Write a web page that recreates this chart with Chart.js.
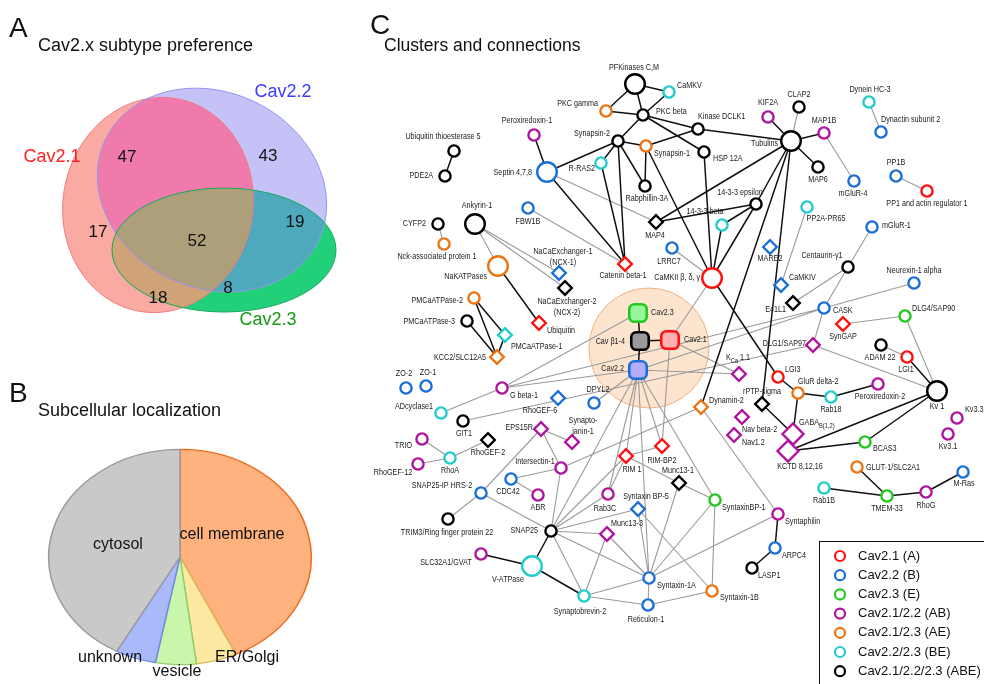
<!DOCTYPE html>
<html>
<head>
<meta charset="utf-8">
<script src="https://cdn.jsdelivr.net/npm/chart.js@4.4.1/dist/chart.umd.min.js"></script>
<style>
  html, body { margin: 0; padding: 0; background: #fff; overflow: hidden; }
  #wrap { position: relative; width: 984px; height: 684px; }
  #pie { position: absolute; left: 47px; top: 424px; z-index: 0; }
  #main { position: absolute; left: 0; top: 0; z-index: 1; }
</style>
</head>
<body>
<div id="wrap">
  <canvas id="pie" width="266" height="266"></canvas>
  <canvas id="main" width="984" height="684"></canvas>
</div>
<script>
// ---------- Panel A: Cav2.x subtype preference (Venn counts) ----------
const vennSets = ['Cav2.1', 'Cav2.2', 'Cav2.3'];
const vennRegions = ['2.1 only', '2.2 only', '2.3 only', '2.1+2.2', '2.1+2.3', '2.2+2.3', '2.1+2.2+2.3'];
const vennRegionSets = [[0], [1], [2], [0, 1], [0, 2], [1, 2], [0, 1, 2]];
const vennCounts = [17, 43, 8, 47, 18, 19, 52];

// ---------- Panel B: subcellular localization ----------
const pieLabels = ['cell membrane', 'ER/Golgi', 'vesicle', 'unknown', 'cytosol'];
const pieValues = [43, 5, 5, 5, 42];

// ---------- Panel C: subtype groups ----------
const subtypeGroups = ['A', 'B', 'E', 'AB', 'AE', 'BE', 'ABE'];
const subtypeNames = ['Cav2.1 (A)', 'Cav2.2 (B)', 'Cav2.3 (E)', 'Cav2.1/2.2 (AB)',
                      'Cav2.1/2.3 (AE)', 'Cav2.2/2.3 (BE)', 'Cav2.1/2.2/2.3 (ABE)'];

// proteins: [name, subtype group, marker, x, y, label x, label y, label anchor]
// marker: o circle, O large circle, d diamond, D large diamond, s channel subunit
const proteins = [
  ['Ubiquitin thioesterase 5','ABE','o',454,151,443,137,'c'],
  ['PDE2A','ABE','o',445,176,433,176,'r'],
  ['Peroxiredoxin-1','AB','o',534,135,527,121,'c'],
  ['Septin 4,7,8','B','O',547,172,532,173,'r'],
  ['PFKinases C,M','ABE','O',635,84,634,68,'c'],
  ['CaMKV','BE','o',669,92,677,86,'l'],
  ['PKC gamma','AE','o',606,111,598,104,'r'],
  ['PKC beta','ABE','o',643,115,656,112,'l'],
  ['Kinase DCLK1','ABE','o',698,129,698,117,'l'],
  ['KIF2A','AB','o',768,117,768,103,'c'],
  ['Synapsin-2','ABE','o',618,141,610,134,'r'],
  ['Synapsin-1','AE','o',646,146,654,154,'l'],
  ['HSP 12A','ABE','o',704,152,713,159,'l'],
  ['R-RAS2','BE','o',601,163,595,169,'r'],
  ['Rabphillin-3A','ABE','o',645,186,647,199,'c'],
  ['Tubulins','ABE','O',791,141,778,144,'r'],
  ['14-3-3 epsilon','ABE','o',756,204,740,193,'c'],
  ['14-3-3 beta','BE','o',722,225,705,212,'c'],
  ['CLAP2','ABE','o',799,107,799,95,'c'],
  ['MAP1B','AB','o',824,133,824,121,'c'],
  ['MAP6','ABE','o',818,167,818,180,'c'],
  ['mGluR-4','B','o',854,181,853,194,'c'],
  ['Dynein HC-3','BE','o',869,102,870,90,'c'],
  ['Dynactin subunit 2','B','o',881,132,881,120,'l'],
  ['PP1B','B','o',896,176,896,163,'c'],
  ['PP1 and actin regulator 1','A','o',927,191,927,204,'c'],
  ['FBW1B','B','o',528,208,528,222,'c'],
  ['Ankyrin-1','ABE','O',475,224,477,206,'c'],
  ['CYFP2','ABE','o',438,224,426,224,'r'],
  ['Nck-associated protein 1','AE','o',444,244,437,257,'c'],
  ['NaKATPases','AE','O',498,266,487,277,'r'],
  ['NCX-1','B','d',559,273,563,252,'c'],
  ['NCX-2','ABE','d',565,288,567,302,'c'],
  ['Ubiquitin','A','d',539,323,547,331,'l'],
  ['PMCaATPase-2','AE','o',474,298,463,301,'r'],
  ['PMCaATPase-3','ABE','o',467,321,455,322,'r'],
  ['PMCaATPase-1','BE','d',505,335,511,347,'l'],
  ['KCC2/SLC12A5','AE','d',497,357,486,358,'r'],
  ['MAP4','ABE','d',656,222,655,236,'c'],
  ['LRRC7','B','o',672,248,669,262,'c'],
  ['Catenin beta-1','A','d',625,264,623,276,'c'],
  ['CaMKII','A','O',712,278,700,278,'r'],
  ['MARE2','B','d',770,247,770,259,'c'],
  ['CaMKIV','B','d',781,285,789,278,'l'],
  ['PP2A-PR65','BE','o',807,207,826,219,'c'],
  ['Cav2.3','E','s',638,313,651,313,'l'],
  ['Cav β1-4','ABE','s',640,341,625,342,'r'],
  ['Cav2.1','A','s',670,340,684,340,'l'],
  ['Cav2.2','B','s',638,370,624,369,'r'],
  ['E41L1','ABE','d',793,303,786,310,'r'],
  ['Centaurin-γ1','ABE','o',848,267,822,256,'c'],
  ['mGluR-1','B','o',872,227,882,226,'l'],
  ['Neurexin-1 alpha','B','o',914,283,914,271,'c'],
  ['CASK','B','o',824,308,833,311,'l'],
  ['SynGAP','A','d',843,324,843,337,'c'],
  ['DLG4/SAP90','E','o',905,316,912,309,'l'],
  ['DLG1/SAP97','AB','d',813,345,806,344,'r'],
  ['ADAM 22','ABE','o',881,345,880,358,'c'],
  ['LGI1','A','o',907,357,906,370,'c'],
  ['Kv 1','ABE','O',937,391,937,407,'c'],
  ['LGI3','A','o',778,377,785,370,'l'],
  ['GluR delta-2','AE','o',798,393,798,382,'l'],
  ['Rab18','BE','o',831,397,831,410,'c'],
  ['Peroxiredoxin-2','AB','o',878,384,880,397,'c'],
  ['GABA-B','AB','D',793,434,799,423,'l'],
  ['KCTD 8,12,16','AB','D',788,451,800,467,'c'],
  ['BCAS3','E','o',865,442,873,449,'l'],
  ['Kv3.3','AB','o',957,418,965,410,'l'],
  ['Kv3.1','AB','o',948,434,948,447,'c'],
  ['GLUT-1/SLC2A1','AE','o',857,467,866,468,'l'],
  ['Rab1B','BE','o',824,488,824,501,'c'],
  ['TMEM-33','E','o',887,496,887,509,'c'],
  ['RhoG','AB','o',926,492,926,506,'c'],
  ['M-Ras','B','o',963,472,964,484,'c'],
  ['KCa 1.1','AB','d',739,374,738,358,'c'],
  ['DPYL2','B','o',594,403,598,390,'c'],
  ['Dynamin-2','AE','d',701,407,709,401,'l'],
  ['rPTP-sigma','ABE','d',762,404,762,392,'c'],
  ['Nav beta-2','AB','d',742,417,742,430,'l'],
  ['Nav1.2','AB','d',734,435,742,443,'l'],
  ['RIM-BP2','A','d',662,446,662,461,'c'],
  ['RIM 1','A','d',626,456,632,470,'c'],
  ['Munc13-1','ABE','d',679,483,678,471,'c'],
  ['SyntaxinBP-1','E','o',715,500,722,508,'l'],
  ['Rab3C','AB','o',608,494,605,509,'c'],
  ['Syntaxin BP-5','B','d',638,509,646,497,'c'],
  ['Syntaphilin','AB','o',778,514,785,522,'l'],
  ['ARPC4','B','o',775,548,782,556,'l'],
  ['LASP1','ABE','o',752,568,758,576,'l'],
  ['ZO-2','B','o',406,388,404,374,'c'],
  ['ZO-1','B','o',426,386,428,373,'c'],
  ['G beta-1','AB','o',502,388,510,396,'l'],
  ['RhoGEF-6','B','d',558,398,540,411,'c'],
  ['ADcyclase1','BE','o',441,413,433,407,'r'],
  ['GIT1','ABE','o',463,421,464,434,'c'],
  ['EPS15R','AB','d',541,429,533,428,'r'],
  ['Synaptojanin-1','AB','d',572,442,583,421,'c'],
  ['TRIO','AB','o',422,439,412,446,'r'],
  ['RhoGEF-2','ABE','d',488,440,488,453,'c'],
  ['RhoA','BE','o',450,458,450,471,'c'],
  ['RhoGEF-12','AB','o',418,464,393,473,'c'],
  ['Intersectin-1','AB','o',561,468,535,462,'c'],
  ['CDC42','B','o',511,479,508,492,'c'],
  ['ABR','AB','o',538,495,538,508,'c'],
  ['SNAP25-IP HRS-2','B','o',481,493,442,486,'c'],
  ['TRIM3/Ring finger protein 22','ABE','o',448,519,447,533,'c'],
  ['SNAP25','ABE','o',551,531,538,531,'r'],
  ['SLC32A1/GVAT','AB','o',481,554,446,563,'c'],
  ['V-ATPase','BE','O',532,566,508,580,'c'],
  ['Synaptobrevin-2','BE','o',584,596,580,612,'c'],
  ['Munc13-3','AB','d',607,534,627,524,'c'],
  ['Syntaxin-1A','B','o',649,578,657,586,'l'],
  ['Syntaxin-1B','AE','o',712,591,720,598,'l'],
  ['Reticulon-1','B','o',648,605,646,620,'c']
];

// printed names that differ from the short protein keys
const printedName = {
  'NCX-1': 'NaCaExchanger-1\n(NCX-1)',
  'NCX-2': 'NaCaExchanger-2\n(NCX-2)',
  'CaMKII': 'CaMKII β, δ, γ',
  'GABA-B': 'GABA_{B(1,2)}',
  'KCa 1.1': 'K_{Ca} 1.1',
  'Synaptojanin-1': 'Synapto-\njanin-1'
};

// links: [protein, protein, k = black link | g = grey link]
const links = [
  ['Ubiquitin thioesterase 5','PDE2A','k'], ['Peroxiredoxin-1','Septin 4,7,8','k'],
  ['Septin 4,7,8','Synapsin-2','k'], ['Septin 4,7,8','Catenin beta-1','k'], ['Septin 4,7,8','MAP4','g'],
  ['PFKinases C,M','CaMKV','k'], ['PFKinases C,M','PKC gamma','k'], ['PFKinases C,M','PKC beta','k'],
  ['CaMKV','PKC beta','k'], ['PKC gamma','PKC beta','k'], ['PKC beta','Synapsin-2','k'],
  ['PKC beta','Kinase DCLK1','k'], ['PKC beta','HSP 12A','k'], ['Kinase DCLK1','Tubulins','k'],
  ['Synapsin-2','Synapsin-1','k'], ['Synapsin-1','Kinase DCLK1','k'], ['Synapsin-2','R-RAS2','k'],
  ['Synapsin-2','Rabphillin-3A','k'], ['Synapsin-1','Rabphillin-3A','k'], ['Synapsin-2','Catenin beta-1','k'],
  ['R-RAS2','Catenin beta-1','k'], ['Synapsin-1','CaMKII','k'], ['HSP 12A','CaMKII','k'],
  ['Tubulins','KIF2A','k'], ['Tubulins','MAP1B','k'], ['Tubulins','MAP6','k'], ['Tubulins','CLAP2','g'],
  ['Tubulins','MAP4','k'], ['Tubulins','14-3-3 epsilon','k'], ['MAP4','14-3-3 epsilon','k'],
  ['14-3-3 epsilon','14-3-3 beta','k'], ['14-3-3 beta','CaMKII','k'], ['14-3-3 epsilon','CaMKII','k'],
  ['Tubulins','Dynamin-2','k'], ['Tubulins','rPTP-sigma','k'], ['CaMKII','LGI3','k'],
  ['rPTP-sigma','GABA-B','k'], ['LGI3','GluR delta-2','k'], ['GluR delta-2','Rab18','k'],
  ['Rab18','Peroxiredoxin-2','k'], ['GluR delta-2','GABA-B','k'], ['GABA-B','KCTD 8,12,16','k'],
  ['KCTD 8,12,16','Kv 1','k'], ['BCAS3','Kv 1','k'], ['BCAS3','KCTD 8,12,16','k'], ['LGI1','Kv 1','k'],
  ['ADAM 22','LGI1','g'], ['DLG4/SAP90','Kv 1','g'], ['SynGAP','DLG4/SAP90','g'], ['DLG1/SAP97','Kv 1','g'],
  ['CASK','DLG1/SAP97','g'], ['CASK','Neurexin-1 alpha','g'], ['CASK','Cav2.2','g'],
  ['Centaurin-γ1','CASK','g'], ['Centaurin-γ1','mGluR-1','g'], ['Centaurin-γ1','E41L1','g'],
  ['PP2A-PR65','CaMKIV','g'], ['MAP1B','mGluR-4','g'], ['Dynein HC-3','Dynactin subunit 2','g'],
  ['PP1B','PP1 and actin regulator 1','g'],
  ['GLUT-1/SLC2A1','TMEM-33','k'], ['Rab1B','TMEM-33','k'], ['TMEM-33','RhoG','k'], ['RhoG','M-Ras','k'],
  ['FBW1B','Catenin beta-1','g'], ['Ankyrin-1','NaKATPases','g'], ['Ankyrin-1','NCX-1','g'],
  ['Ankyrin-1','NCX-2','g'], ['NaKATPases','Ubiquitin','k'], ['CYFP2','Nck-associated protein 1','g'],
  ['PMCaATPase-2','KCC2/SLC12A5','k'], ['PMCaATPase-2','PMCaATPase-1','k'],
  ['PMCaATPase-3','KCC2/SLC12A5','k'], ['PMCaATPase-1','KCC2/SLC12A5','k'],
  ['LRRC7','CaMKII','g'], ['Cav2.1','CaMKII','g'],
  ['Cav2.3','Cav β1-4','k'], ['Cav β1-4','Cav2.1','k'], ['Cav β1-4','Cav2.2','k'],
  ['Cav2.1','KCa 1.1','g'], ['Cav2.2','KCa 1.1','g'],
  ['G beta-1','Cav2.3','g'], ['G beta-1','Cav2.2','g'], ['G beta-1','CASK','g'], ['GIT1','DLG1/SAP97','g'],
  ['ADcyclase1','G beta-1','g'], ['TRIO','RhoA','g'], ['RhoGEF-12','RhoA','g'], ['RhoA','RhoGEF-2','g'],
  ['EPS15R','Synaptojanin-1','g'], ['EPS15R','Intersectin-1','g'], ['EPS15R','SNAP25-IP HRS-2','g'],
  ['Intersectin-1','CDC42','g'], ['CDC42','ABR','g'], ['Intersectin-1','SNAP25','g'],
  ['Intersectin-1','Dynamin-2','g'], ['SNAP25-IP HRS-2','SNAP25','g'],
  ['SNAP25-IP HRS-2','TRIM3/Ring finger protein 22','g'],
  ['Cav2.2','DPYL2','g'], ['Cav2.2','SNAP25','g'], ['Cav2.2','RIM 1','g'], ['Cav2.2','RIM-BP2','g'],
  ['Cav2.2','Rab3C','g'], ['Cav2.2','Syntaxin-1A','g'], ['Cav2.2','SyntaxinBP-1','g'], ['Cav2.1','RIM-BP2','g'],
  ['RIM 1','RIM-BP2','g'], ['RIM 1','Munc13-1','g'], ['RIM 1','Rab3C','g'], ['RIM 1','SNAP25','g'],
  ['Munc13-1','SyntaxinBP-1','g'], ['Munc13-1','Syntaxin-1A','g'],
  ['SNAP25','Rab3C','g'], ['SNAP25','Syntaxin BP-5','g'], ['SNAP25','Munc13-3','g'],
  ['SNAP25','Syntaxin-1A','g'], ['SNAP25','Synaptobrevin-2','g'],
  ['Munc13-3','Syntaxin-1A','g'], ['Munc13-3','Synaptobrevin-2','g'],
  ['Syntaxin BP-5','Syntaxin-1A','g'], ['Syntaxin BP-5','Syntaxin-1B','g'],
  ['SyntaxinBP-1','Syntaxin-1A','g'], ['SyntaxinBP-1','Syntaxin-1B','g'],
  ['Syntaphilin','Syntaxin-1A','g'], ['Dynamin-2','Syntaphilin','g'],
  ['Syntaxin-1A','Reticulon-1','g'], ['Syntaxin-1A','Synaptobrevin-2','g'],
  ['Reticulon-1','Syntaxin-1B','g'], ['Reticulon-1','Synaptobrevin-2','g'],
  ['Syntaphilin','ARPC4','k'], ['ARPC4','LASP1','k'],
  ['V-ATPase','SLC32A1/GVAT','k'], ['V-ATPase','SNAP25','k'], ['V-ATPase','Synaptobrevin-2','k']
];

// ---------- styling ----------
const FONT = '"Liberation Sans", Arial, Helvetica, sans-serif';
const groupColor = { A: '#ff1010', B: '#1b6fd6', E: '#22c81e', AB: '#b0139d', AE: '#ec7412', BE: '#22cccc', ABE: '#000000' };
const subunitFill = { A: '#ffb0b0', B: '#b4acf6', E: '#98f59c', ABE: '#9a9a9a' };
const markerStyle = { o: 'circle', O: 'circle', d: 'rectRot', D: 'rectRot', s: 'rectRounded' };
const markerRadius = { o: 5.6, O: 9.8, d: 6.8, D: 10.5, s: 10.2 };

const vennLayout = {
  // one ellipse per set, in vennSets order
  shapes: [
    { cx: 158, cy: 205, rx: 95, ry: 108, rot: 10, stroke: '#f07a80' },
    { cx: 212, cy: 190, rx: 118, ry: 98, rot: 25, stroke: '#9892ee' },
    { cx: 224, cy: 250, rx: 112, ry: 62, rot: 0, stroke: '#1aa85a' }
  ],
  // fill of each region, in vennRegions order
  regionFill: ['#f8aaa3', '#c5c2f8', '#22d07a', '#f07aac', '#cfa277', '#4fa9bd', '#ad9f7a'],
  setLabels: [[52, 157, '#ff2020'], [283, 92, '#3c3cff'], [268, 320, '#169a16']],
  regionPos: [[98, 232], [268, 156], [228, 288], [127, 157], [158, 298], [295, 222], [197, 241]]
};

function richText(ctx, text, x, y, align, size, sx) {
  const lines = text.split('\n');
  lines.forEach((line, i) => {
    const parts = [];
    const re = /_\{([^}]*)\}/g;
    let last = 0, m;
    while ((m = re.exec(line))) {
      if (m.index > last) parts.push([line.slice(last, m.index), false]);
      parts.push([m[1], true]);
      last = re.lastIndex;
    }
    if (last < line.length) parts.push([line.slice(last), false]);
    const f = sub => (sub ? size * 0.8 : size) + 'px ' + FONT;
    let w = 0;
    parts.forEach(p => { ctx.font = f(p[1]); w += ctx.measureText(p[0]).width; });
    let cx = align === 'l' ? 0 : align === 'r' ? -w : -w / 2;
    ctx.save();
    ctx.translate(x, y + i * size * 1.2);
    ctx.scale(sx, 1);
    ctx.textAlign = 'left';
    ctx.textBaseline = 'middle';
    parts.forEach(p => {
      ctx.font = f(p[1]);
      ctx.fillText(p[0], cx, p[1] ? size * 0.32 : 0);
      cx += ctx.measureText(p[0]).width;
    });
    ctx.restore();
  });
}

const byName = {};
proteins.forEach(p => { byName[p[0]] = p; });

// one scatter dataset per subtype group
const nodeDatasets = subtypeGroups.map(g => {
  const members = proteins.filter(p => p[1] === g);
  return {
    label: g,
    data: members.map(p => ({ x: p[3], y: p[4] })),
    pointStyle: c => markerStyle[members[c.dataIndex][2]],
    pointRadius: c => markerRadius[members[c.dataIndex][2]],
    pointBorderWidth: c => members[c.dataIndex][2] === 's' ? 2.6 : 2.4,
    pointBorderColor: groupColor[g],
    pointBackgroundColor: c => members[c.dataIndex][2] === 's' ? subunitFill[g] : '#ffffff',
    clip: false
  };
});

// Venn regions, the channel-complex halo and the links, under the markers
const underlayPlugin = {
  id: 'underlay',
  beforeDatasetsDraw(chart) {
    const ctx = chart.ctx, xs = chart.scales.x, ys = chart.scales.y;
    const px = v => xs.getPixelForValue(v), py = v => ys.getPixelForValue(v);
    const ellipse = k => {
      const s = vennLayout.shapes[k];
      ctx.beginPath();
      ctx.ellipse(px(s.cx), py(s.cy), px(s.cx + s.rx) - px(s.cx), py(s.cy + s.ry) - py(s.cy),
                  s.rot * Math.PI / 180, 0, Math.PI * 2);
    };
    // singles first, then pairwise overlaps, then the triple overlap
    vennRegionSets.forEach((sets, i) => {
      ctx.save();
      sets.slice(1).forEach(k => { ellipse(k); ctx.clip(); });
      ellipse(sets[0]);
      ctx.fillStyle = vennLayout.regionFill[i];
      ctx.fill();
      ctx.restore();
    });
    ctx.save();
    vennLayout.shapes.forEach((s, k) => {
      ellipse(k);
      ctx.lineWidth = 1;
      ctx.strokeStyle = s.stroke;
      ctx.stroke();
    });
    // halo behind the Cav subunits
    ctx.beginPath();
    ctx.arc(px(649), py(348), px(709) - px(649), 0, Math.PI * 2);
    ctx.fillStyle = 'rgba(251,205,168,0.55)';
    ctx.fill();
    ctx.strokeStyle = 'rgba(243,170,120,0.9)';
    ctx.lineWidth = 1;
    ctx.stroke();
    // links: grey first, black on top
    ['g', 'k'].forEach(kind => {
      ctx.beginPath();
      links.filter(l => l[2] === kind).forEach(l => {
        const a = byName[l[0]], b = byName[l[1]];
        ctx.moveTo(px(a[3]), py(a[4]));
        ctx.lineTo(px(b[3]), py(b[4]));
      });
      ctx.strokeStyle = kind === 'g' ? '#9a9a9a' : '#111111';
      ctx.lineWidth = kind === 'g' ? 1.1 : 1.5;
      ctx.stroke();
    });
    ctx.restore();
  }
};

// texts: panel titles, Venn counts, protein names, legend
const textPlugin = {
  id: 'texts',
  afterDatasetsDraw(chart) {
    const ctx = chart.ctx, xs = chart.scales.x, ys = chart.scales.y;
    const px = v => xs.getPixelForValue(v), py = v => ys.getPixelForValue(v);
    ctx.save();
    ctx.fillStyle = '#111';
    ctx.textBaseline = 'alphabetic';
    ctx.textAlign = 'left';
    ctx.font = '28px ' + FONT;
    ctx.fillText('A', px(9), py(37));
    ctx.fillText('B', px(9), py(402));
    ctx.fillText('C', px(370), py(34));
    ctx.font = '18px ' + FONT;
    ctx.fillText('Cav2.x subtype preference', px(38), py(51));
    ctx.fillText('Subcellular localization', px(38), py(416));
    ctx.font = '17.5px ' + FONT;
    ctx.fillText('Clusters and connections', px(384), py(51));

    // Venn numbers and set names
    ctx.textAlign = 'center';
    ctx.textBaseline = 'middle';
    ctx.font = '17px ' + FONT;
    ctx.fillStyle = '#111';
    vennCounts.forEach((n, i) => {
      const p = vennLayout.regionPos[i];
      ctx.fillText(String(n), px(p[0]), py(p[1]));
    });
    ctx.font = '18px ' + FONT;
    vennSets.forEach((s, k) => {
      const p = vennLayout.setLabels[k];
      ctx.fillStyle = p[2];
      ctx.fillText(s, px(p[0]), py(p[1]));
    });

    // protein names
    ctx.fillStyle = '#1a1a1a';
    proteins.forEach(p => {
      const t = printedName[p[0]] || p[0];
      richText(ctx, t, px(p[5]), py(p[6]), p[7], 9, 0.8);
    });

    // legend box
    ctx.strokeStyle = '#111';
    ctx.lineWidth = 1;
    ctx.strokeRect(px(819) + 0.5, py(541) + 0.5, 400, 300);
    subtypeGroups.forEach((g, i) => {
      const y = py(556 + i * 19.2);
      ctx.beginPath();
      ctx.arc(px(840), y, 5, 0, Math.PI * 2);
      ctx.lineWidth = 2.2;
      ctx.strokeStyle = groupColor[g];
      ctx.stroke();
      ctx.fillStyle = '#111';
      ctx.font = '13px ' + FONT;
      ctx.textAlign = 'left';
      ctx.textBaseline = 'middle';
      ctx.fillText(subtypeNames[i], px(858), y);
    });
    ctx.restore();
  }
};

new Chart(document.getElementById('main'), {
  type: 'scatter',
  data: { datasets: nodeDatasets },
  options: {
    responsive: false,
    animation: false,
    devicePixelRatio: 1,
    events: [],
    layout: { padding: 0, autoPadding: false },
    scales: {
      x: { type: 'linear', min: 0, max: 984, display: false },
      y: { type: 'linear', min: 0, max: 684, reverse: true, display: false }
    },
    plugins: { legend: { display: false }, tooltip: { enabled: false } }
  },
  plugins: [underlayPlugin, textPlugin]
});

// ---------- Panel B pie (drawn flattened into an ellipse) ----------
const pieFill = ['#ffb27e', '#fde8a2', '#c9f6aa', '#a9b9f9', '#c9c9c9'];
const pieEdge = ['#ee6a1a', '#d9bb62', '#8fd06c', '#7086e6', '#9a9a9a'];
const pieTextPos = [[185, 111], [200, 234], [130, 248], [63, 234], [71, 121]];
const flatten = 0.82;

new Chart(document.getElementById('pie'), {
  type: 'pie',
  data: {
    labels: pieLabels,
    datasets: [{ data: pieValues, backgroundColor: pieFill, borderColor: pieEdge, borderWidth: 1.5 }]
  },
  options: {
    responsive: false,
    animation: false,
    devicePixelRatio: 1,
    events: [],
    layout: { padding: 1 },
    plugins: { legend: { display: false }, tooltip: { enabled: false } }
  },
  plugins: [{
    id: 'flatPie',
    beforeDatasetsDraw(chart) {
      const ctx = chart.ctx, a = chart.chartArea;
      const cx = (a.left + a.right) / 2, cy = (a.top + a.bottom) / 2;
      ctx.save();
      ctx.translate(cx, cy);
      ctx.scale(1, flatten);
      ctx.translate(-cx, -cy);
    },
    afterDatasetsDraw(chart) {
      const ctx = chart.ctx;
      ctx.restore();
      ctx.save();
      ctx.fillStyle = '#111';
      ctx.font = '16px ' + FONT;
      ctx.textAlign = 'center';
      ctx.textBaseline = 'middle';
      pieLabels.forEach((l, i) => ctx.fillText(l, pieTextPos[i][0], pieTextPos[i][1]));
      ctx.restore();
    }
  }]
});
</script>
</body>
</html>
